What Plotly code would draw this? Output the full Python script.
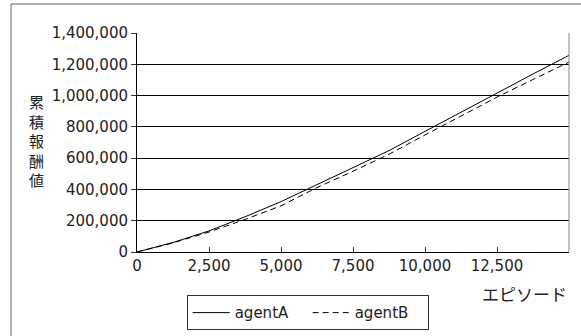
import plotly.graph_objects as go

episodes = [0, 1250, 2500, 3750, 5000, 6250, 7500, 8750, 10000, 11250, 12500, 13750, 15000]
agentA = [0, 61000, 135000, 225000, 322000, 432000, 540000, 648000, 771000, 895000, 1018000, 1138000, 1257000]
agentB = [0, 58000, 128000, 208000, 295000, 412000, 516000, 625000, 748000, 870000, 990000, 1103000, 1214000]

x_ticks = [0, 2500, 5000, 7500, 10000, 12500]
x_ticklabels = ["0", "2,500", "5,000", "7,500", "10,000", "12,500"]
y_ticks = [0, 200000, 400000, 600000, 800000, 1000000, 1200000, 1400000]
y_ticklabels = ["0", "200,000", "400,000", "600,000", "800,000", "1,000,000", "1,200,000", "1,400,000"]

JP = "Noto Sans CJK JP"
NUM = "DejaVu Sans"

fig = go.Figure()
fig.add_trace(go.Scatter(x=episodes, y=agentA, mode="lines", name="agentA",
                         line=dict(color="black", width=1)))
fig.add_trace(go.Scatter(x=episodes, y=agentB, mode="lines", name="agentB",
                         line=dict(color="black", width=1, dash="6px,4px")))

fig.update_layout(
    width=581, height=336,
    margin=dict(l=137, r=12, t=33, b=84, autoexpand=False),
    paper_bgcolor="white", plot_bgcolor="white",
    font=dict(family=NUM, size=15, color="#222"),
    showlegend=True,
    legend=dict(orientation="h", x=0.115, xanchor="left", y=-0.198, yanchor="top",
                bordercolor="#333", borderwidth=1, bgcolor="white",
                font=dict(family=NUM, size=15, color="#222"),
                itemwidth=37, entrywidth=68, entrywidthmode="pixels",
                tracegroupgap=0),
    xaxis=dict(range=[0, 15000], tickvals=x_ticks, ticktext=x_ticklabels,
               showgrid=False, zeroline=False, showline=True, linecolor="black",
               linewidth=1, mirror=False, ticks="inside", ticklen=5, tickcolor="#333",
               tickfont=dict(family=NUM, size=15)),
    yaxis=dict(range=[0, 1400000], tickvals=y_ticks, ticktext=y_ticklabels,
               showgrid=True, gridcolor="black", gridwidth=1, zeroline=False,
               showline=True, linecolor="black", linewidth=1, ticks="outside",
               ticklen=5, tickcolor="#333", tickfont=dict(family=NUM, size=15)),
    shapes=[
        dict(type="line", xref="paper", yref="paper", x0=1, x1=1, y0=0, y1=1,
             line=dict(color="#888", width=1)),
        dict(type="rect", xref="paper", yref="paper", x0=-0.2917, x1=1.2,
             y0=-0.6, y1=1.1324, line=dict(color="#666", width=1),
             fillcolor="rgba(0,0,0,0)", layer="below"),
    ],
    annotations=[
        dict(text="累<br>積<br>報<br>酬<br>値", xref="paper", yref="paper",
             x=-0.2337, y=0.51, xanchor="center", yanchor="middle", showarrow=False,
             font=dict(family=JP, size=15, color="#222")),
        dict(text="エピソード", xref="paper", yref="paper", x=1.0, y=-0.19,
             xanchor="right", yanchor="middle", showarrow=False,
             font=dict(family=JP, size=17, color="#222")),
    ],
)

fig.write_html("out.html", config={"displayModeBar": False},
               post_script="document.body.style.margin='0';document.body.style.padding='0';")
